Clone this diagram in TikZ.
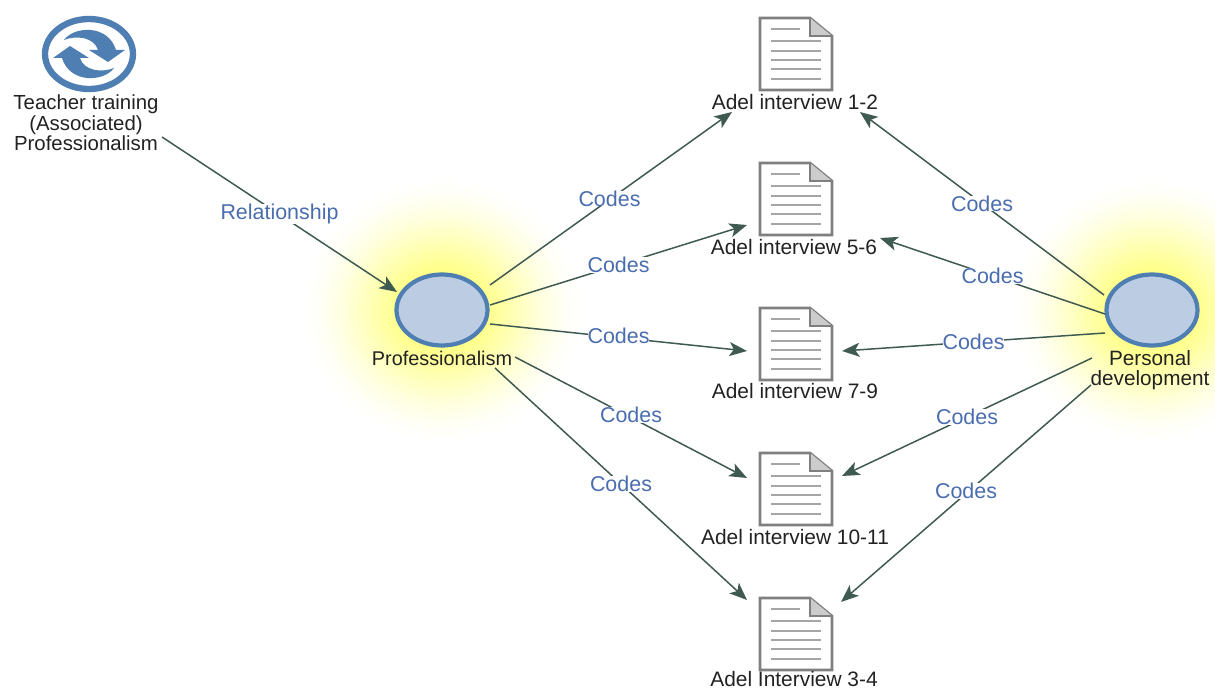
\documentclass[tikz,border=0pt]{standalone}
\usepackage{fontspec}
\setmainfont{Liberation Sans}
\usetikzlibrary{arrows.meta,shapes.geometric,calc}
\pgfdeclareradialshading{glowshade}{\pgfpoint{0bp}{0bp}}{rgb(0bp)=(1,1,0.5); rgb(8bp)=(1,1,0.55); rgb(13bp)=(1,1,0.72); rgb(18bp)=(1,1,0.88); rgb(22bp)=(1,1,0.97); rgb(25bp)=(1,1,1); rgb(50bp)=(1,1,1)}
\definecolor{linec}{HTML}{3F5A50}
\definecolor{labc}{HTML}{4A6DB0}
\definecolor{ringc}{HTML}{4F7FB2}
\definecolor{fillc}{HTML}{BCCDE3}
\definecolor{docc}{HTML}{7F7F7F}
\definecolor{docl}{HTML}{A5A5A5}
\definecolor{txtc}{HTML}{222222}
\tikzset{
  conn/.style={draw=linec,line width=0.85pt,-{Stealth[length=10pt,width=8pt,inset=2.5pt]}},
  rel/.style={font=\fontsize{12.2}{13}\selectfont,text=labc,fill=white,inner sep=0pt},
  captxt/.style={font=\fontsize{11.3}{11.6}\selectfont,text=txtc,align=center,inner sep=0pt},
  doccap/.style={captxt,font=\fontsize{11.9}{13}\selectfont},
  topic/.style={ellipse,draw=ringc,line width=2.4pt,fill=fillc,minimum width=1.82cm,minimum height=1.42cm,inner sep=0pt},
  docbox/.style={rectangle,minimum width=1.46cm,minimum height=1.44cm,inner sep=0pt}
}
\begin{document}
\begin{tikzpicture}[x=0.02cm,y=-0.02cm]
\path[use as bounding box,fill=white] (0,0) rectangle (1215,689);
% glows
\begin{scope}
\clip (0,0) rectangle (1215,689);
\shade[shading=glowshade] (442,310) ellipse [x radius=140,y radius=132];
\shade[shading=glowshade] (1152,310) ellipse [x radius=140,y radius=132];
\end{scope}
% refresh icon
\node[inner sep=0pt,minimum width=1.84cm,minimum height=1.46cm] (assoc) at (89,54) {};
\draw[ringc,line width=3.6pt] (assoc.center) ellipse [x radius=44,y radius=35];
\fill[ringc] (64,40) .. controls (74,26) and (108,24) .. (116,50) -- (125,50) -- (108,62) -- (89,50) -- (98,50) .. controls (94,37) and (76,35) .. (64,40) -- cycle;
\fill[ringc] (114,68) .. controls (104,82) and (70,84) .. (62,58) -- (53,58) -- (70,46) -- (89,58) -- (80,58) .. controls (84,71) and (102,73) .. (114,68) -- cycle;
% documents
\foreach \n/\yy in {1/54,2/199,3/344,4/489,5/634}{
  \node[docbox] (doc\n) at (796,\yy) {};
  \begin{scope}[shift={(796,\yy)}]
    \draw[docc,line width=1.5pt,fill=white] (-36,-36) -- (14,-36) -- (36,-18) -- (36,36) -- (-36,36) -- cycle;
    \fill[docc!40!white] (14,-36) -- (36,-18) -- (14,-18) -- cycle;
    \draw[docc,line width=1.3pt] (14,-36) -- (14,-18) -- (36,-18);
    \draw[docl,line width=0.8pt] (-25,-25) -- (4,-25)
      (-25,-13) -- (25,-13) (-25,-3) -- (25,-3) (-25,6) -- (25,6) (-25,15) -- (25,15) (-25,25) -- (25,25);
  \end{scope}
}
% topics
\node[topic] (prof) at (442,310) {};
\node[topic] (pers) at (1152,310) {};
% captions
\node[captxt,font=\fontsize{11.6}{11.6}\selectfont] (assoccap) at (86,123) {Teacher training\\(Associated)\\Professionalism};
\node[captxt] (profcap) at (442,358) {Professionalism};
\node[captxt,font=\fontsize{11.8}{11.4}\selectfont] (perscap) at (1150,370) {Personal\\development};
\node[doccap] (d1cap) at (795,102) {Adel interview 1-2};
\node[doccap] (d2cap) at (794,247) {Adel interview 5-6};
\node[doccap] (d3cap) at (795,391) {Adel interview 7-9};
\node[doccap] (d4cap) at (795,537) {Adel interview 10-11};
\node[doccap] (d5cap) at (794,679) {Adel Interview 3-4};
% connectors
\draw[conn] ([shift={(76,14)}]assoccap.center) -- node[rel,pos=0.5,yshift=0.01cm]{Relationship} ([shift={(-45,-18)}]prof.center);
\draw[conn] ([shift={(48,-25)}]prof.center) -- node[rel,pos=0.5,xshift=-0.03cm]{Codes} ([shift={(-64,58)}]doc1.center);
\draw[conn] ([shift={(48,-5)}]prof.center) -- node[rel,pos=0.5]{Codes} ([shift={(-49,26)}]doc2.center);
\draw[conn] ([shift={(48,14)}]prof.center) -- node[rel,pos=0.5,yshift=0.03cm]{Codes} ([shift={(-49,7)}]doc3.center);
\draw[conn] ([shift={(73,47)}]prof.center) -- node[rel,pos=0.5,yshift=0.05cm]{Codes} ([shift={(-49,-11)}]doc4.center);
\draw[conn] ([shift={(53,58)}]prof.center) -- node[rel,pos=0.5]{Codes} ([shift={(-49,-34)}]doc5.center);
\draw[conn] ([shift={(-48,-15)}]pers.center) -- node[rel,pos=0.5]{Codes} ([shift={(64,58)}]doc1.center);
\draw[conn] ([shift={(-47,4)}]pers.center) -- node[rel,pos=0.5]{Codes} ([shift={(84,39)}]doc2.center);
\draw[conn] ([shift={(-47,23)}]pers.center) -- node[rel,pos=0.5]{Codes} ([shift={(46,7)}]doc3.center);
\draw[conn] ([shift={(-60,48)}]pers.center) -- node[rel,pos=0.5]{Codes} ([shift={(46,-13)}]doc4.center);
\draw[conn] ([shift={(-61,75)}]pers.center) -- node[rel,pos=0.5,yshift=0.05cm]{Codes} ([shift={(45,-32)}]doc5.center);
\end{tikzpicture}
\end{document}
